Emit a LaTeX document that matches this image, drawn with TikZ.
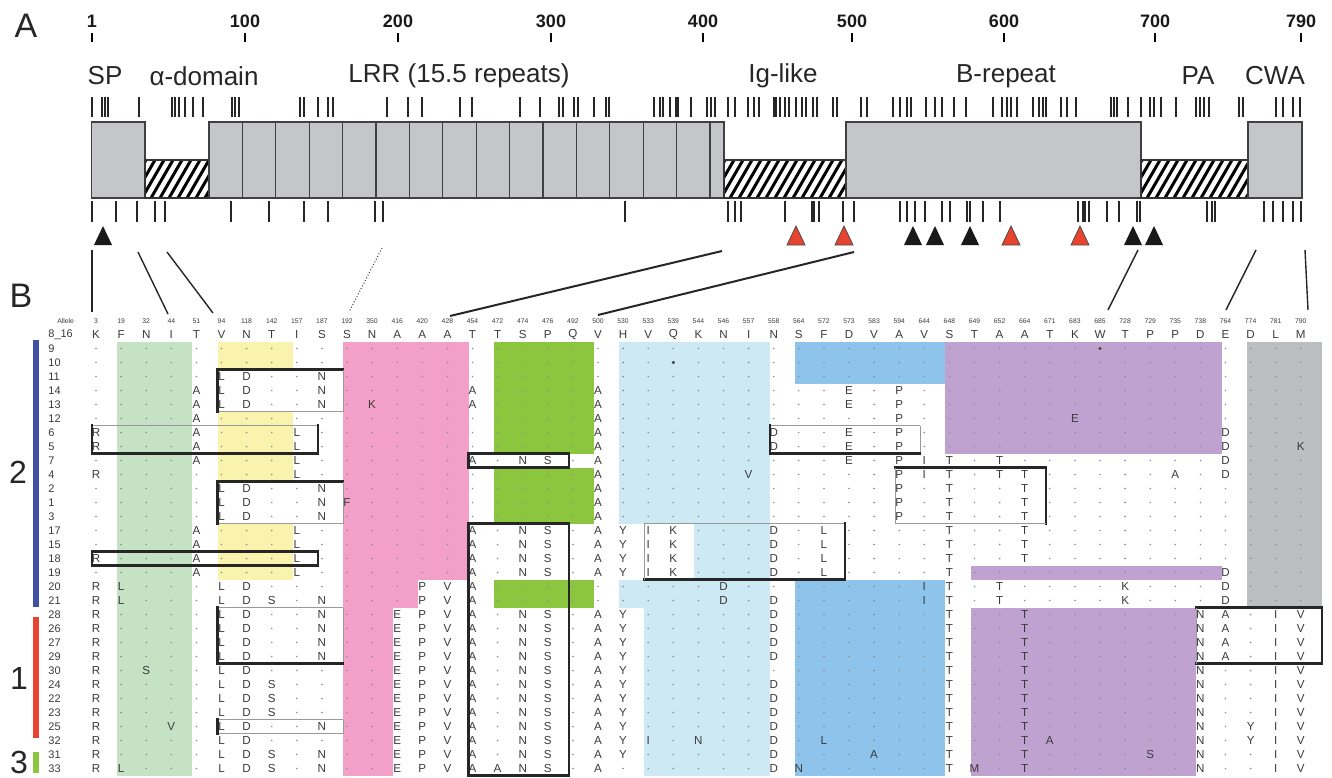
\documentclass[tikz,border=0pt]{standalone}
\usepackage{fontspec}
\setmainfont{Liberation Sans}

\definecolor{lgreen}{HTML}{C6E2C4}
\definecolor{lyellow}{HTML}{FAF3AE}
\definecolor{lpink}{HTML}{F3A0C8}
\definecolor{dgreen}{HTML}{8CC63F}
\definecolor{lblue}{HTML}{CDE9F4}
\definecolor{mblue}{HTML}{8EC4EB}
\definecolor{lpurple}{HTML}{C0A2D1}
\definecolor{lgray}{HTML}{BDBEC0}
\definecolor{boxfill}{HTML}{C4C6C9}
\definecolor{barblue}{HTML}{3F51A3}
\definecolor{barred}{HTML}{E8432F}
\definecolor{txt}{HTML}{3A3A3A}
\definecolor{dotc}{HTML}{8E8E8E}

\newcount\colk
\def\docell#1{%
  \pgfmathsetmacro\cx{96+25.1*\the\colk}%
  \edef\nm{c\rowidx x\the\colk}%
  \if#1.\fill[dotc] (\cx,\rowy) circle (0.9);%
  \else\if#1*\fill[black!75] (\cx,\rowy) circle (1.7);%
  \else\node[cellt] (\nm) at (\cx,\rowy) {#1};\fi\fi
  \global\advance\colk by 1\relax}
\def\parsecells#1{\ifx#1\relax\else\docell{#1}\expandafter\parsecells\fi}
\newcommand\cellrow[2]{%
  \global\colk=0
  \pgfmathsetmacro\rowy{334.5+14*#1}%
  \def\rowidx{#1}%
  \parsecells#2\relax}
\newcommand\blk[5]{%
  \fill[#1] ({96+25.1*#2-4},{334.5+14*#4-7}) rectangle ({96+25.1*#3+21.1},{334.5+14*#5+7});}
\newcommand\obox[8]{%
  \pgfmathsetmacro\xa{96+25.1*#1-4}\pgfmathsetmacro\xb{96+25.1*#2+21.1}%
  \pgfmathsetmacro\ya{334.5+14*#3-7}\pgfmathsetmacro\yb{334.5+14*#4+7}%
  \draw[#5] (\xa,\ya) -- (\xb,\ya);
  \draw[#6] (\xb,\ya) -- (\xb,\yb);
  \draw[#7] (\xa,\yb) -- (\xb,\yb);
  \draw[#8] (\xa,\ya) -- (\xa,\yb);}
\newcommand\hatchbox[2]{%
  \pgfmathsetmacro\hs{#1-30}\pgfmathsetmacro\hn{#1-21}%
  \begin{scope}
    \clip (#1,160) rectangle (#2,198);
    \fill[white] (#1,160) rectangle (#2,198);
    \foreach \t in {\hs,\hn,...,#2} \draw[line width=1.5pt] (\t,198) -- ({\t+22},160);
  \end{scope}
  \draw[black!80,line width=0.7pt] (#1,160) rectangle (#2,198);}

\begin{document}
\begin{tikzpicture}[x=0.5pt,y=-0.5pt,
  cellt/.style={font=\fontsize{5.8}{6}\selectfont,text=txt,inner sep=0pt},
  rowlab/.style={font=\fontsize{5.5}{6}\selectfont,text=txt,inner sep=0pt,anchor=west},
  hdr/.style={font=\fontsize{3.4}{4}\selectfont,text=txt,inner sep=0pt},
  dom/.style={font=\fontsize{13}{15}\selectfont,text=black!85,inner sep=0pt},
  scl/.style={font=\bfseries\fontsize{9}{10}\selectfont,text=black!90,inner sep=0pt},
  panel/.style={font=\fontsize{17}{19}\selectfont,text=black!85,inner sep=0pt},
  grp/.style={font=\fontsize{16}{18}\selectfont,text=black!85,inner sep=0pt},
  dbox/.style={fill=boxfill,draw=black!75,line width=0.6pt},
  vmk/.style={line width=0.55pt,black!85},
  thk/.style={line width=1.1pt,black!85,line cap=rect},
  thn/.style={line width=0.5pt,black!40},
  conn/.style={line width=0.7pt,black!85},
  blacktri/.style={fill=black!90},
  redtri/.style={fill=barred,draw=black!70,line width=0.4pt}]
\useasboundingbox (0,0) rectangle (1332,777);

% ---------- panel A ----------
\node[panel] (pA) at (26,26) {A};
\foreach \x/\l [count=\i] in {92/1,245/100,398/200,551/300,703/400,852/500,1004/600,1155/700,1301/790} {
  \node[scl] (s\i) at (\x,21) {\l};
  \draw[line width=1.3pt] (\x,33) -- (\x,42);
}
\node[dom] (dSP) at (105,76) {SP};
\node[dom] (dAl) at (204,76) {α-domain};
\node[dom] (dLRR) at (459,76) {LRR (15.5 repeats)};
\node[dom] (dIg) at (783,76) {Ig-like};
\node[dom] (dB) at (1006,76) {B-repeat};
\node[dom] (dPA) at (1198,76) {PA};
\node[dom] (dCWA) at (1275,76) {CWA};

\foreach \x in {92,102,105,108,139,172,175,179,185,193,203,232,235,239,300,304,318,328,333,387,408,422,460,472,520,540,559,563,574,578,594,606,609,654,660,663,670,676,678,691,707,711,715,728,735,748,754,759,774,776,780,785,789,796,802,806,813,817,833,837,861,867,893,900,907,911,926,935,942,954,966,993,1002,1007,1011,1017,1033,1039,1043,1046,1061,1067,1076,1111,1114,1117,1128,1141,1150,1154,1161,1176,1196,1200,1204,1209,1239,1243,1276,1283,1293,1300}
  \draw[vmk] (\x,97) -- (\x,117);

\draw[dbox] (91.5,122) rectangle (145,198);
\hatchbox{145}{209}
\draw[dbox] (209,122) rectangle (724,198);
\foreach \k in {1,...,15} \draw[black!75,line width=0.6pt] ({209+33.4*\k},122) -- ({209+33.4*\k},198);
\hatchbox{724}{846}
\draw[dbox] (846,122) rectangle (1141,198);
\hatchbox{1141}{1248}
\draw[dbox] (1248,122) rectangle (1302,198);

\foreach \x in {92,116,137,155,165,231,269,304,328,375,383,625,728,735,741,785,812,814,819,843,854,900,907,915,925,942,950,967,970,983,1000,1078,1083,1085,1089,1107,1119,1137,1140,1207,1212,1215,1264,1273,1283,1293,1301}
  \draw[vmk] (\x,201) -- (\x,222);

\foreach \x in {103,913,935,970,1133,1154}
  \fill[blacktri] ({\x-9},245) -- ({\x+9},245) -- (\x,226) -- cycle;
\foreach \x in {796,844,1011,1080}
  \filldraw[redtri] ({\x-9},245) -- ({\x+9},245) -- (\x,226) -- cycle;

% connectors A -> B
\coordinate (a1) at (92,250);   \coordinate (b1) at (92,312);
\coordinate (a2) at (138,252);  \coordinate (b2) at (168,314);
\coordinate (a3) at (167,252);  \coordinate (b3) at (213,313);
\coordinate (a4) at (382,248);  \coordinate (b4) at (349,312);
\coordinate (a5) at (722,251);  \coordinate (b5) at (450,316);
\coordinate (a6) at (854,252);  \coordinate (b6) at (598,315);
\coordinate (a7) at (1138,250); \coordinate (b7) at (1108,310);
\coordinate (a8) at (1256,250); \coordinate (b8) at (1226,310);
\coordinate (a9) at (1305,250); \coordinate (b9) at (1308,310);
\foreach \i in {1,2,3,7,8,9} \draw[conn] (a\i) -- (b\i);
\draw[line width=0.5pt,black!75,densely dotted] (a4) -- (b4);
\draw[line width=1pt,black!85] (a5) -- (b5);
\draw[line width=1pt,black!85] (a6) -- (b6);

% ---------- panel B ----------
\node[panel] (pB) at (21,296) {B};

\node[hdr,anchor=west] (hAll) at (57,321.5) {Allele};
\foreach \n [count=\k from 0] in {3,19,32,44,51,94,118,142,157,187,192,350,416,420,428,454,472,474,476,492,500,530,533,539,544,546,557,558,564,572,573,583,594,644,648,649,652,664,671,683,685,728,729,735,738,764,774,781,790}
  \node[hdr] (h\k) at ({96+25.1*\k},321.5) {\n};

\foreach \l [count=\i from 0] in {8\_16,9,10,11,14,13,12,6,5,7,4,2,1,3,17,15,18,19,20,21,28,26,27,29,30,24,22,23,25,32,31,33}
  \node[rowlab] (rl\i) at (48,{334.5+14*\i}) {\l};

% colour blocks
\blk{lgreen}{1}{3}{1}{31}
\blk{lyellow}{5}{7}{1}{2}
\blk{lyellow}{5}{7}{6}{10}
\blk{lyellow}{5}{7}{14}{17}
\blk{lpink}{10}{14}{1}{17}
\blk{lpink}{10}{12}{18}{19}
\blk{lpink}{10}{11}{20}{31}
\blk{dgreen}{16}{19}{1}{8}
\blk{dgreen}{16}{19}{10}{13}
\blk{dgreen}{16}{19}{18}{19}
\blk{lblue}{21}{26}{1}{13}
\blk{lblue}{24}{26}{14}{17}
\blk{lblue}{21}{26}{18}{19}
\blk{lblue}{22}{26}{20}{31}
\blk{mblue}{28}{33}{1}{3}
\blk{mblue}{28}{33}{18}{31}
\blk{lpurple}{34}{44}{1}{8}
\blk{lpurple}{35}{44}{17}{17}
\blk{lpurple}{35}{43}{20}{31}
\blk{lgray}{46}{48}{1}{19}

% cells
\cellrow{0}{KFNITVNTIS SNAAATTSPQ VHVQKNINSF DVAVSTAATK WTPPDEDLM}
\cellrow{1}{.......... .......... .......... .......... *........}
\cellrow{2}{.......... .......... ...*...... .......... .........}
\cellrow{3}{.....LD..N .......... .......... .......... .........}
\cellrow{4}{....ALD..N .....A.... A......... E.P....... .........}
\cellrow{5}{....ALD..N .K...A.... A......... E.P....... .........}
\cellrow{6}{....A..... .......... A......... ..P......E .........}
\cellrow{7}{R...A...L. .......... A......D.. E.P....... .....D...}
\cellrow{8}{R...A...L. .......... A......D.. E.P....... .....D..K}
\cellrow{9}{....A...L. .....A.NS. A......... E.PIT.T... .....D...}
\cellrow{10}{R.......L. .......... A.....V... ..PIT.TT.. ...A.D...}
\cellrow{11}{.....LD..N .......... A......... ..P.T..T.. .........}
\cellrow{12}{.....LD..N F......... A......... ..P.T..T.. .........}
\cellrow{13}{.....LD..N .......... A......... ..P.T..T.. .........}
\cellrow{14}{....A...L. .....A.NS. AYIK...D.L ....T..T.. .........}
\cellrow{15}{....A...L. .....A.NS. AYIK...D.L ....T..T.. .........}
\cellrow{16}{R...A...L. .....A.NS. AYIK...D.L ....T..T.. .........}
\cellrow{17}{....A...L. .....A.NS. AYIK...D.L ....T..... .....D...}
\cellrow{18}{RL...LD... ...PVA.... .....D.... ...IT.T... .K...D...}
\cellrow{19}{RL...LDS.N ...PVA.... .....D.D.. ...IT.T... .K...D...}
\cellrow{20}{R....LD..N ..EPVA.NS. AY.....D.. ....T..T.. ....NA.IV}
\cellrow{21}{R....LD..N ..EPVA.NS. AY.....D.. ....T..T.. ....NA.IV}
\cellrow{22}{R....LD..N ..EPVA.NS. AY.....D.. ....T..T.. ....NA.IV}
\cellrow{23}{R....LD..N ..EPVA.NS. AY.....D.. ....T..T.. ....NA.IV}
\cellrow{24}{R.S..LD... ..EPVA.NS. AY........ ....T..T.. ....N..IV}
\cellrow{25}{R....LDS.. ..EPVA.NS. AY.....D.. ....T..T.. ....N..IV}
\cellrow{26}{R....LDS.. ..EPVA.NS. AY.....D.. ....T..T.. ....N..IV}
\cellrow{27}{R....LDS.. ..EPVA.NS. AY.....D.. ....T..T.. ....N..IV}
\cellrow{28}{R..V.LD..N ..EPVA.NS. AY.....D.. ....T..T.. ....N.YIV}
\cellrow{29}{R....LD... ..EPVA.NS. AYI.N..D.L ....T..TA. ....N.YIV}
\cellrow{30}{R....LDS.N ..EPVA.NS. AY.....D.. .A..T..T.. ..S.N..IV}
\cellrow{31}{RL...LDS.N ..EPVAANS. A......DN. ....TM.T.. ....N..IV}

% outlined boxes
\obox{5}{9}{3}{5}{thk}{thn}{thn}{thk}
\obox{0}{8}{7}{8}{thn}{thk}{thk}{thk}
\obox{5}{9}{11}{13}{thk}{thn}{thn}{thk}
\obox{0}{8}{16}{16}{thk}{thk}{thk}{thk}
\obox{5}{9}{20}{23}{thn}{thn}{thk}{thk}
\obox{5}{9}{28}{28}{thn}{thn}{thn}{thk}
\obox{15}{18}{9}{9}{thk}{thk}{thk}{thk}
\obox{15}{18}{14}{31}{thk}{thk}{thk}{thk}
\obox{22}{29}{14}{17}{thn}{thk}{thk}{thn}
\obox{27}{32}{7}{8}{thn}{thn}{thk}{thk}
\obox{32}{37}{10}{13}{thk}{thk}{thn}{thn}
\obox{44}{48}{20}{23}{thk}{thk}{thk}{thn}

% group bars
\fill[barblue] (33,340) rectangle (39,607);
\fill[barred] (33,617) rectangle (39,738);
\fill[dgreen] (33,752) rectangle (39,773);
\node[grp] (g2) at (18,472) {2};
\node[grp] (g1) at (19,678) {1};
\node[grp] (g3) at (19,762) {3};
\end{tikzpicture}
\end{document}
